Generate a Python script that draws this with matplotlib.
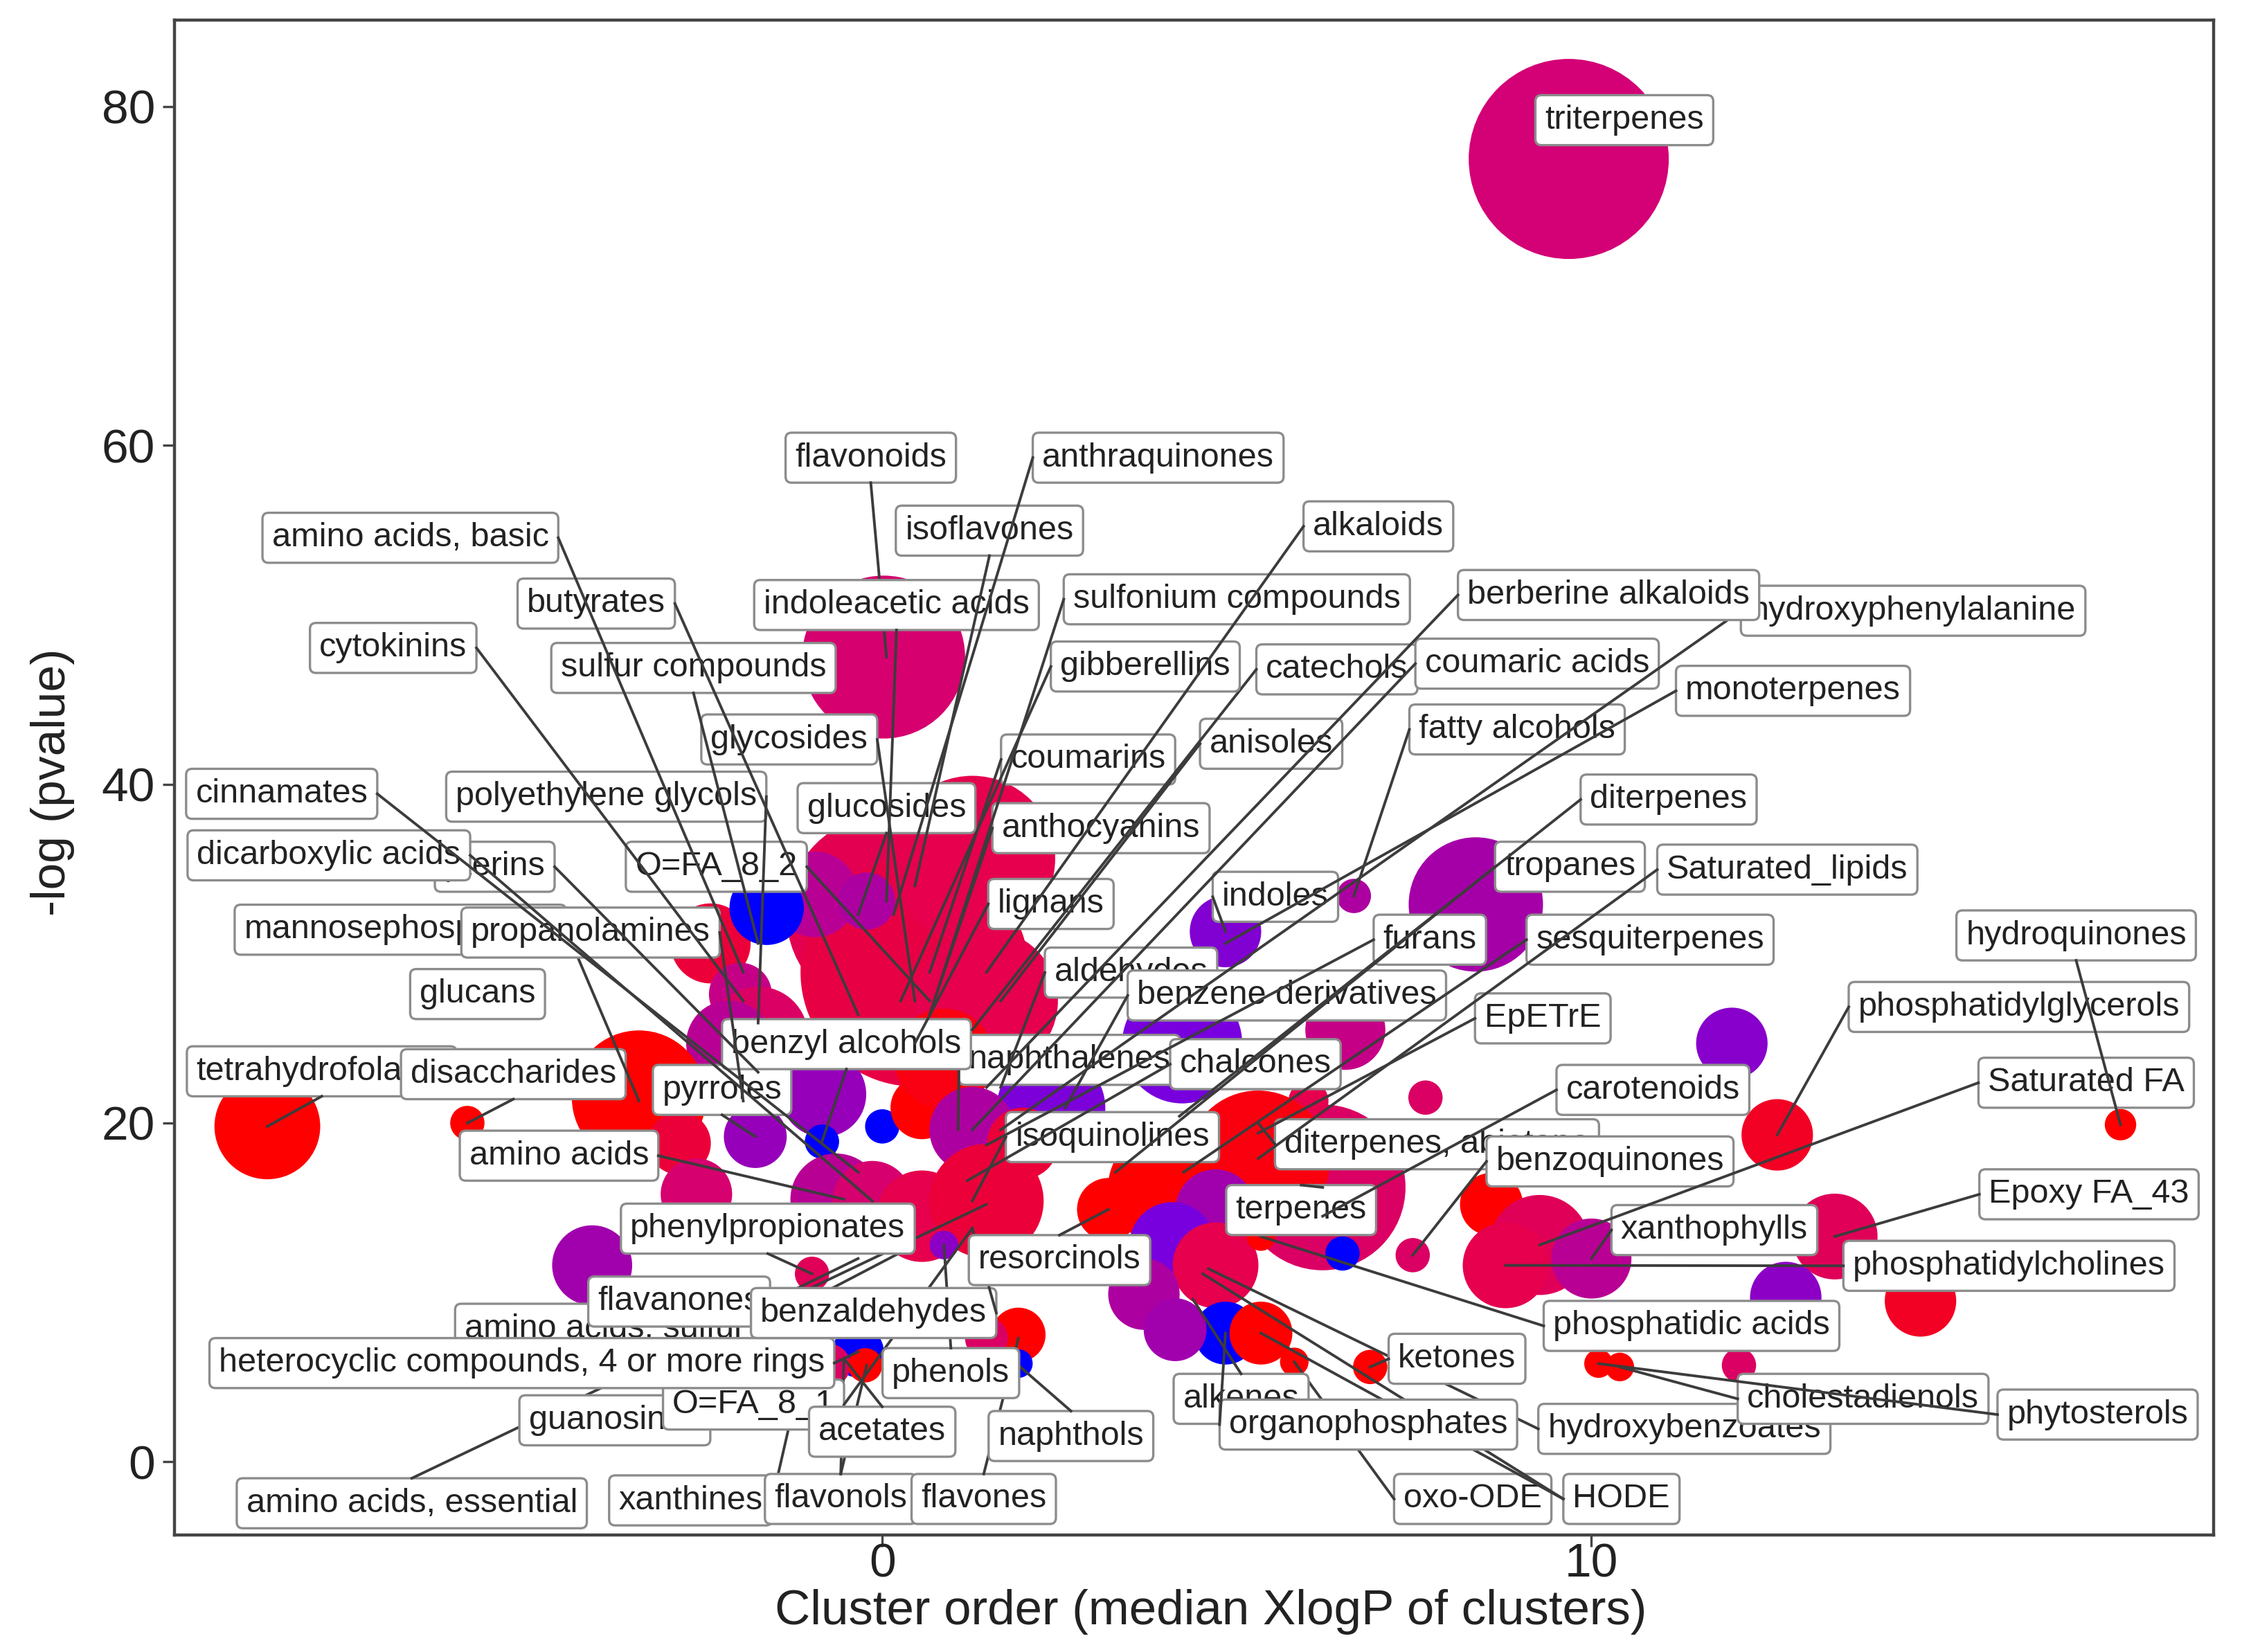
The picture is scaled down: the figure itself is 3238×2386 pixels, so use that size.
import matplotlib
matplotlib.use("Agg")
import matplotlib.pyplot as plt
from matplotlib.colors import LinearSegmentedColormap
from matplotlib.lines import Line2D

plt.rcParams['font.family'] = ['Liberation Sans', 'DejaVu Sans']

# clusters: median XlogP, -log(p), bubble radius, share of unsaturated (0 red .. 1 blue)
cluster_x = [0.06, 0.46, 1.27, 1.47, 0.02, 6.21, -2.42, -0.95, -0.22, -1.63, -2.0, -1.75, -2.16, -3.43, -2.86, -2.62,
             -1.79, -0.83, -0.85, 0.0, 0.56, 0.87, -0.65, -0.14, 0.56, 2.38, 1.27, 1.98, 1.47, 4.23, 4.84,
             6.65, 8.37, 6.53, 7.66, 6.01, 5.3, 11.98, 12.62, 17.46, 3.99, 3.19, 4.7, 4.09, 4.7,
             5.34, 6.49, 7.48, 8.59, 9.27, 10.0, 8.79, 13.43, 12.74, 14.64, 10.1, 10.4, 12.08, 6.88, 5.81,
             4.84, 5.34, 3.69, 4.13, -4.09, -0.99, 1.92, 1.47, 1.92, -0.34, -0.75, -0.24, 0.87, -8.67, -5.85, 9.68]
cluster_y = [32.3, 28.9, 35.6, 27.2, 47.5, 16.2, 30.6, 33.5, 33.1, 32.7, 27.6, 25.1, 24.7, 21.5, 18.8, 15.8,
             19.2, 21.7, 18.9, 19.8, 20.9, 23.8, 15.5, 15.4, 14.5, 20.9, 19.6, 18.8, 15.4, 24.7, 31.3,
             33.4, 32.9, 25.5, 21.5, 21.3, 17.7, 24.7, 19.3, 19.9, 16.2, 14.9, 14.9, 12.8, 11.6,
             13.3, 12.3, 12.2, 15.2, 12.8, 12.0, 11.6, 13.3, 9.7, 9.5, 5.8, 5.6, 5.7, 5.6, 5.9,
             7.6, 7.6, 9.9, 7.8, 11.6, 11.1, 7.5, 7.3, 5.8, 6.5, 5.7, 5.7, 12.8, 19.8, 20.0, 76.9]
cluster_radius = [70, 80, 58, 50, 57, 58, 28, 30, 20, 26, 22, 35, 30, 47, 22, 25,
                  22, 30, 12, 12, 22, 35, 32, 28, 32, 38, 30, 25, 40, 42, 25,
                  12, 47, 28, 12, 14, 50, 25, 25, 11, 40, 22, 28, 30, 30,
                  10, 12, 12, 22, 35, 28, 30, 30, 25, 25, 10, 10, 12, 12, 10,
                  22, 22, 25, 22, 28, 12, 19, 15, 10, 18, 15, 12, 10, 37, 12, 70]
cluster_unsat = [0.22, 0.18, 0.2, 0.2, 0.35, 0.3, 0.15, 0.5, 0.55, 1.0, 0.45, 0.3, 0.5, 0.0, 0.15, 0.35,
                 0.65, 0.65, 1.0, 1.0, 0.0, 0.05, 0.5, 0.35, 0.2, 0.78, 0.55, 0.15, 0.15, 0.8, 0.75,
                 0.55, 0.58, 0.45, 0.3, 0.2, 0.04, 0.72, 0.1, 0.0, 0.0, 0.0, 0.6, 0.8, 0.2,
                 0.0, 1.0, 0.3, 0.0, 0.25, 0.5, 0.2, 0.25, 0.7, 0.1, 0.0, 0.0, 0.3, 0.0, 0.0,
                 1.0, 0.0, 0.55, 0.6, 0.6, 0.25, 0.0, 0.3, 1.0, 1.0, 0.3, 0.0, 0.7, 0.0, 0.0, 0.38]

# labels in drawing order, later ones lie on top
label_names = ['xanthines', 'flavonols', 'flavones', 'oxo-ODE', 'HODE', 'amino acids, essential', 'naphthols',
               'hydroxybenzoates', 'guanosines', 'alkenes', 'organophosphates', 'cholestadienols', 'phytosterols',
               'O=FA_8_1', 'amino acids, sulfur', 'ketones', 'phenols', 'heterocyclic compounds, 4 or more rings',
               'acetates', 'phosphatidic acids', 'flavanones', 'benzaldehydes', 'phosphatidylcholines', 'resorcinols',
               'xanthophylls', 'phenylpropionates', 'terpenes', 'Epoxy FA_43', 'amino acids', 'diterpenes, abietane',
               'benzoquinones', 'isoquinolines', 'pyrroles', 'carotenoids', 'Saturated FA', 'tetrahydrofolates',
               'disaccharides', 'naphthalenes', 'chalcones', 'benzyl alcohols', 'EpETrE', 'phosphatidylglycerols',
               'aldehydes', 'benzene derivatives', 'glucans', 'furans', 'sesquiterpenes', 'hydroquinones',
               'mannosephosphates', 'propanolamines', 'lignans', 'indoles', 'tropanes', 'Saturated_lipids', 'pterins',
               'O=FA_8_2', 'dicarboxylic acids', 'anthocyanins', 'glucosides', 'diterpenes', 'polyethylene glycols',
               'cinnamates', 'coumarins', 'anisoles', 'glycosides', 'fatty alcohols', 'monoterpenes', 'catechols',
               'coumaric acids', 'gibberellins', 'sulfur compounds', 'cytokinins', 'hydroxyphenylalanine',
               'berberine alkaloids', 'sulfonium compounds', 'flavonoids', 'indoleacetic acids', 'butyrates',
               'isoflavones', 'alkaloids', 'amino acids, basic', 'anthraquinones', 'triterpenes']
# where the leader of each label ends, in data units (None = no visible leader)
anchor_x = [-1.05, -0.22, 1.92, 5.81, 5.34, 1.47, 1.92,
            4.6, -0.95, 4.38, 4.84, 10.4, 10.1,
            1.27, 0.46, 6.88, 0.87, -0.34,
            -0.54, 5.34, -0.34, 1.27, 8.79, 3.19,
            10.0, -0.99, 6.21, 13.43, -0.54, 5.3,
            7.48, 1.27, -1.79, 6.21, 9.27, -8.67,
            -5.85, 1.07, 1.2, -0.85, 5.3, 12.62,
            1.67, 2.58, None, 1.47, 4.25, 17.46,
            -3.43, -1.96, 0.46, 4.84, 3.29, 5.3, -1.75,
            0.67, -0.14, 0.67, -0.34, 4.19, -1.75,
            -0.34, 0.67, 1.67, 0.46, 6.65, 4.84, 1.27,
            1.27, 0.26, -1.75, -1.96, 1.67,
            1.47, 0.67, 0.06, 0.06, -0.34,
            0.46, 1.47, -1.96, 0.16, None]
anchor_y = [6.9, 5.7, 7.3, 5.9, 7.6, 15.2, 5.7,
            11.4, 6.9, 9.6, 7.6, 5.6, 5.8,
            13.8, 12.8, 5.6, 12.8, 6.5,
            6.1, 13.3, 12.0, 13.8, 11.6, 14.9,
            12.0, 11.1, 16.2, 13.3, 15.5, 20.0,
            12.2, 15.4, 19.2, 14.5, 12.8, 19.8,
            20.0, 19.6, 16.6, 18.9, 19.4, 19.3,
            22.1, 20.9, None, 18.7, 17.1, 19.9,
            21.3, 21.3, 24.7, 31.3, 17.1, 17.9, 23.0,
            27.2, 15.4, 26.4, 32.3, 20.4, 25.9,
            17.1, 28.9, 27.2, 27.2, 33.4, 30.6, 25.5,
            19.6, 27.2, 30.6, 27.2, 19.6,
            22.1, 26.4, 47.5, 33.1, 26.4,
            34.0, 28.9, 28.9, 32.3, None]
# a few labels carry a second leader
extra_names = ['HODE', 'flavonols']
extra_x = [4.52, -0.54]
extra_y = [11.1, 6.1]
# leaders that leave from the top edge whatever the distance says
top_edge_labels = ['amino acids, essential']

# label box centres in pixels of the 1568x1155 reference view
label_px = [483, 588, 688, 1030, 1134, 288, 749,
            1178, 430, 868, 957, 1303, 1467,
            527, 423, 1019, 665, 365,
            617, 1183, 475, 611, 1405, 741,
            1199, 537, 910, 1461, 391, 1005,
            1126, 778, 505, 1156, 1459, 225,
            359, 748, 878, 592, 1079, 1412,
            791, 900, 334, 1000, 1154, 1452,
            280, 413, 735, 892, 1098, 1250, 346,
            501, 230, 770, 620, 1167, 424,
            197, 761, 889, 552, 1061, 1254, 935,
            1075, 801, 485, 275, 1338,
            1125, 865, 609, 627, 417,
            692, 964, 287, 810, 1136]
label_py = [1049, 1048, 1048, 1048, 1048, 1051, 1004,
            999, 993, 978, 996, 978, 989,
            982, 929, 950, 960, 953,
            1001, 927, 910, 918, 885, 881,
            860, 859, 846, 835, 808, 800,
            812, 795, 762, 762, 757, 749,
            751, 741, 744, 730, 712, 704,
            680, 696, 695, 657, 657, 654,
            650, 652, 632, 627, 606, 608, 606,
            606, 598, 579, 565, 559, 557,
            555, 531, 520, 517, 510, 483, 468,
            464, 466, 467, 453, 427,
            416, 419, 320, 423, 422,
            371, 368, 376, 320, 84]

red_blue = LinearSegmentedColormap.from_list('redblue', [
    (0.0, (1.0, 0.0, 0.0)), (0.2, (0.9, 0.0, 0.3)), (0.4, (0.82, 0.0, 0.48)),
    (0.6, (0.63, 0.0, 0.68)), (0.8, (0.47, 0.0, 0.87)), (1.0, (0.0, 0.0, 1.0))])

fig = plt.figure(figsize=(16.19, 11.93), dpi=200)
ax = fig.add_axes([122 / 1568, 1 - 1073 / 1155, (1548 - 122) / 1568, (1073 - 14) / 1155])
ax.set_xlim(-9.98, 18.77)
ax.set_ylim(-4.3, 85.1)

pointSizes = [(r * 1.486) ** 2 for r in cluster_radius]
ax.scatter(cluster_x, cluster_y, s=pointSizes, c=cluster_unsat, cmap=red_blue, vmin=0, vmax=1, linewidths=0, zorder=2)

ax.set_xticks([0, 10])
ax.set_yticks([0, 20, 40, 60, 80])
ax.tick_params(labelsize=25, length=6, width=1.2, color='#444444', labelcolor='#222222')
ax.tick_params(axis='x', pad=-2)
ax.tick_params(axis='y', pad=4)
for spine in ax.spines.values():
    spine.set_linewidth(1.6)
    spine.set_color('#444444')
fig.text(847 / 1568, 1 - 1127 / 1155, 'Cluster order (median XlogP of clusters)', fontsize=25.5,
         color='#222222', ha='center', va='center')
fig.text(37 / 1568, 1 - 547 / 1155, '-log (pvalue)', fontsize=25, color='#222222',
         rotation=90, ha='center', va='center')

labelTexts = {}
for i, name in enumerate(label_names):
    labelTexts[name] = ax.text(label_px[i] / 1568, 1 - label_py[i] / 1155, name, transform=fig.transFigure,
                               fontsize=17.5, color='#222222', ha='center', va='center', zorder=10 + 2 * i + 1,
                               clip_on=False,
                               bbox=dict(boxstyle='round,pad=0.28,rounding_size=0.18', fc='white',
                                         ec='#8c8c8c', lw=1.2))

fig.canvas.draw()
renderer = fig.canvas.get_renderer()


def drawLeader(name, xValue, yValue, zorder):
    # start the segment at whichever box edge middle is closest to the target
    box = labelTexts[name].get_bbox_patch().get_window_extent(renderer)
    endX, endY = ax.transData.transform((xValue, yValue))
    starts = [(box.x0, box.y0 + box.height / 2), (box.x1, box.y0 + box.height / 2),
              (box.x0 + box.width / 2, box.y0), (box.x0 + box.width / 2, box.y1)]
    if name in top_edge_labels:
        starts = starts[3:]
    startX, startY = min(starts, key=lambda p: (p[0] - endX) ** 2 + (p[1] - endY) ** 2)
    ax.add_line(Line2D([startX, endX], [startY, endY], transform=None, color='#3c3c3c', lw=1.4,
                       zorder=zorder, clip_on=False))


for i, name in enumerate(label_names):
    if anchor_x[i] is not None:
        drawLeader(name, anchor_x[i], anchor_y[i], 10 + 2 * i + 1.5)
for name, xValue, yValue in zip(extra_names, extra_x, extra_y):
    drawLeader(name, xValue, yValue, 10 + 2 * label_names.index(name) + 1.5)

fig.savefig('out.png', dpi=200)
